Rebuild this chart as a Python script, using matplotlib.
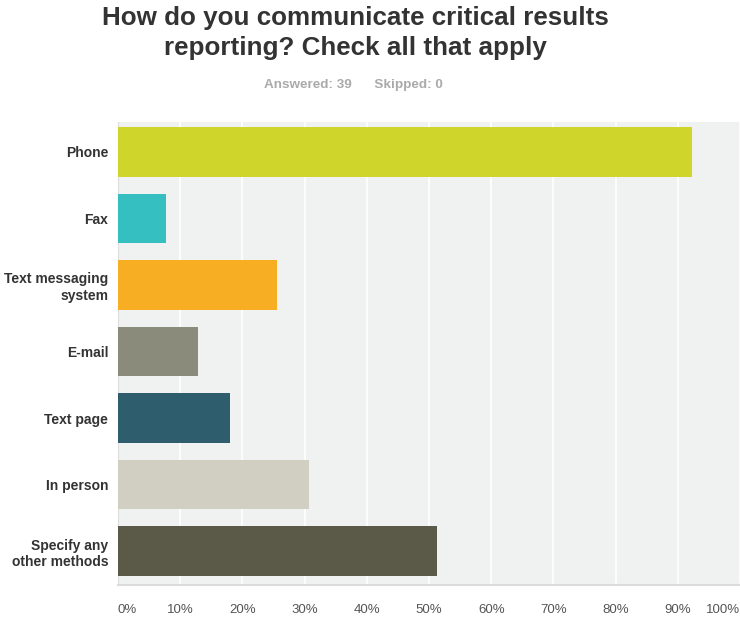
import matplotlib
matplotlib.use("Agg")
import matplotlib.pyplot as plt

categories = ["Phone", "Fax", "Text messaging\nsystem", "E-mail", "Text page",
              "In person", "Specify any\nother methods"]
percents = [92.31, 7.69, 25.64, 12.82, 17.95, 30.77, 51.28]
colors = ["#cfd52b", "#35bfc1", "#f7ae22", "#8b8b7c", "#2e5e6e", "#d0cfc2", "#5b5947"]
ticks = list(range(0, 101, 10))
tick_labels = ["%d%%" % t for t in ticks]

plt.rcParams["font.family"] = ["Liberation Sans", "DejaVu Sans"]

fig = plt.figure(figsize=(7.4, 6.17), dpi=100)
ax = fig.add_axes([118 / 740, 1 - 585 / 617, 622 / 740, (585 - 122) / 617])
ax.set_facecolor("#f0f1f1")

ypos = list(range(len(categories)))
ax.barh(ypos, percents, height=0.75, color=colors, zorder=3)

ax.set_xlim(0, 100)
ax.set_ylim(6.51, -0.45)
ax.set_xticks(ticks)
ax.set_xticklabels(tick_labels, fontsize=9.5, color="#555555")
xt = ax.get_xticklabels()
xt[0].set_horizontalalignment("left")
xt[-1].set_horizontalalignment("right")
ax.set_yticks(ypos)
ax.set_yticklabels(categories, fontsize=10, fontweight="bold", color="#333333")
ax.tick_params(axis="both", length=0)
ax.tick_params(axis="x", pad=14)
ax.tick_params(axis="y", pad=7)
ax.grid(axis="x", color="white", linewidth=1.2, zorder=1)
for side in ["top", "right"]:
    ax.spines[side].set_visible(False)
ax.spines["left"].set_color("#dddddd")
ax.spines["bottom"].set_color("#dcdcdc")
ax.spines["bottom"].set_linewidth(1.5)

fig.text(355 / 740, 1 - 33 / 617, "How do you communicate critical results\nreporting? Check all that apply",
         ha="center", va="center", fontsize=18.7, fontweight="bold", color="#333333",
         linespacing=1.3)
fig.text(353 / 740, 1 - 85 / 617, "Answered: 39      Skipped: 0", ha="center", va="center",
         fontsize=9.7, fontweight="bold", color="#aaaaaa")

fig.savefig("out.png", dpi=100)
